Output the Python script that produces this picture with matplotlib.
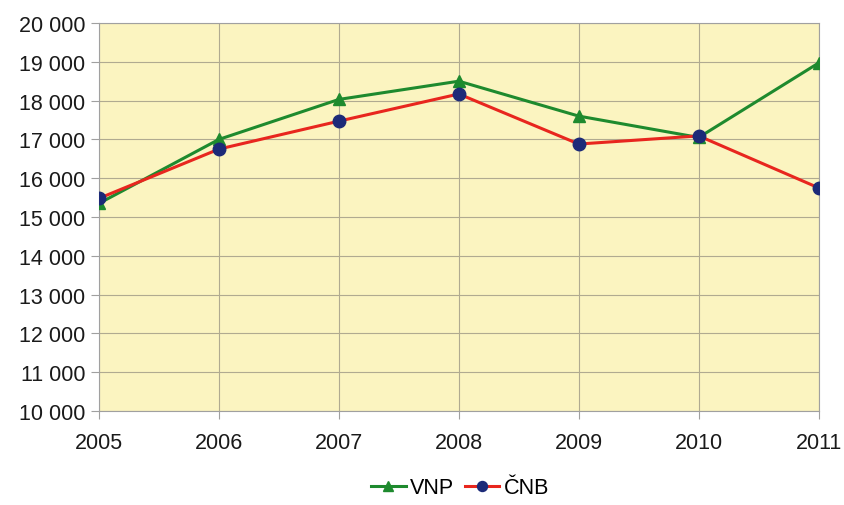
import numpy as np
import matplotlib.pyplot as plt

years = [2005, 2006, 2007, 2008, 2009, 2010, 2011]
vnp = [15350, 17000, 18030, 18500, 17600, 17050, 18970]
cnb = [15480, 16750, 17470, 18170, 16880, 17090, 15750]
yticks = np.arange(10000, 20001, 1000)
ytick_labels = ["{:,}".format(v).replace(",", " ") for v in yticks]

plt.rcParams['font.family'] = ['Liberation Sans', 'DejaVu Sans']

fig = plt.figure(figsize=(8.44, 5.06), dpi=100)
ax = fig.add_axes([0.1173, 0.1858, 0.8527, 0.7668])
ax.set_facecolor('#fbf4c0')

ax.plot(years, vnp, color='#1e8a2e', lw=2.2, marker='^', ms=9,
        markerfacecolor='#1e8a2e', markeredgecolor='#1e8a2e', label='VNP', zorder=3)
ax.plot(years, cnb, color='#e8261e', lw=2.2, marker='o', ms=9,
        markerfacecolor='#1c2a78', markeredgecolor='#1c2a78', label='ČNB', zorder=4)

ax.set_xlim(2005, 2011)
ax.set_ylim(10000, 20000)
ax.set_xticks(years)
ax.set_xticklabels([str(y) for y in years], fontsize=15.5)
ax.set_yticks(yticks)
ax.set_yticklabels(ytick_labels, fontsize=15.5)
ax.grid(True, color='#b0aa90', lw=0.8)
ax.set_axisbelow(True)
for s in ax.spines.values():
    s.set_color('#a0a0a0')
ax.tick_params(axis='both', colors='#a0a0a0', labelcolor='#1a1a1a', length=6)
ax.tick_params(axis='x', pad=9)
ax.tick_params(axis='y', pad=4)

leg = fig.legend(loc='lower center', bbox_to_anchor=(0.545, -0.025), ncol=2, frameon=False,
                 fontsize=15.5, handlelength=1.6, handletextpad=0.2, columnspacing=0.5,
                 markerscale=0.8)

fig.savefig('out.png', dpi=100)
